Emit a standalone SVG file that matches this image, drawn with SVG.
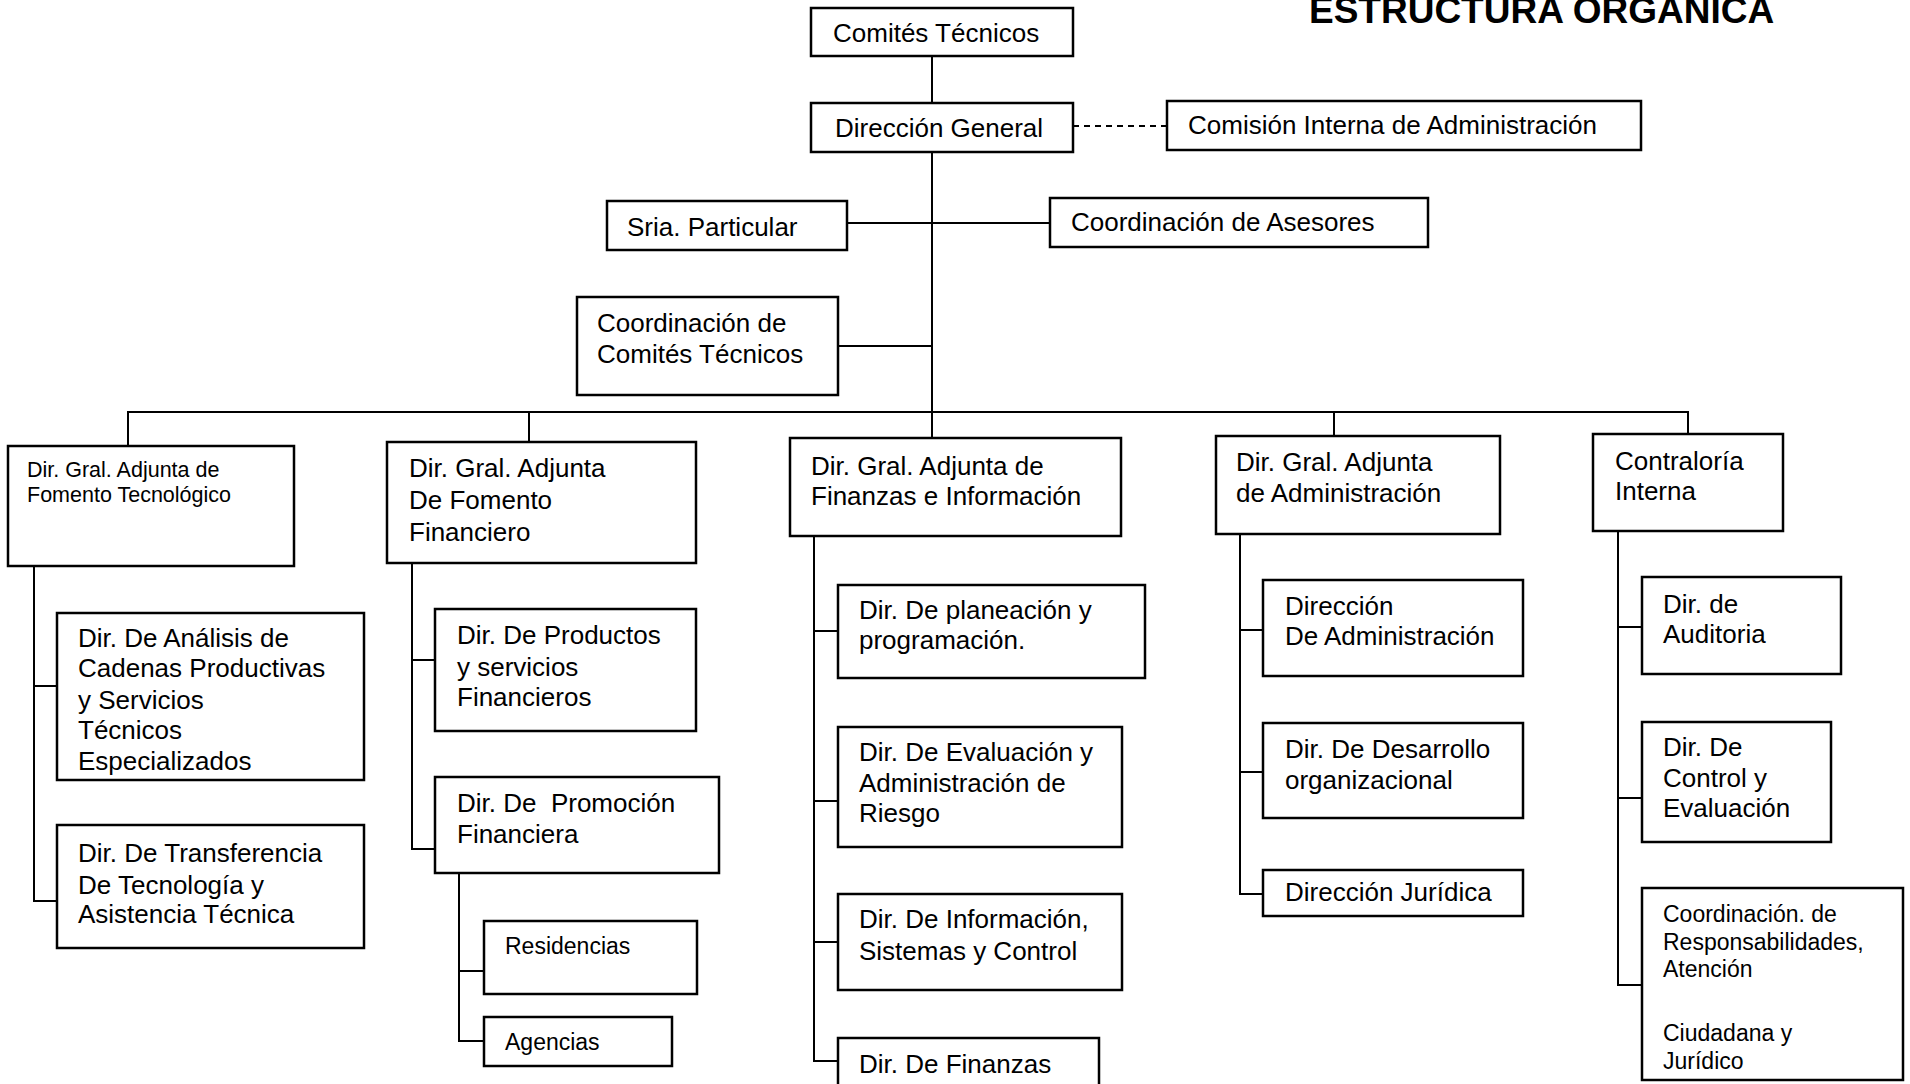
<svg xmlns="http://www.w3.org/2000/svg" width="1910" height="1084" viewBox="0 0 1910 1084">
  <style>
    .box { fill: #fff; stroke: #000; stroke-width: 2.5; }
    .ln { fill: none; stroke: #000; stroke-width: 2; }
    .dash { stroke-dasharray: 6 5; }
    text { font-family: "Liberation Sans", Arial, sans-serif; fill: #000; }
    .t { font-size: 26px; }
    .ts { font-size: 21.5px; }
    .tm { font-size: 23px; }
    .title { font-size: 37px; font-weight: bold; }
  </style>

  <rect width="1910" height="1084" fill="#fff"/>

  <text class="title" x="1309" y="23">ESTRUCTURA ORGANICA</text>

  <!-- connectors -->
  <g id="connectors">
    <!-- main trunk -->
    <path class="ln" d="M932 56 V438"/>
    <path class="ln dash" d="M1073 126 H1167"/>
    <path class="ln" d="M847 223 H1050"/>
    <path class="ln" d="M838 346 H932"/>
    <!-- bus to the deputy directorates -->
    <path class="ln" d="M128 446 V412 H1688 V434"/>
    <path class="ln" d="M529 412 V442"/>
    <path class="ln" d="M1334 412 V436"/>
    <!-- Fomento Tecnológico -->
    <path class="ln" d="M34 566 V901 H57"/>
    <path class="ln" d="M34 686 H57"/>
    <!-- Fomento Financiero -->
    <path class="ln" d="M412 563 V849 H435"/>
    <path class="ln" d="M412 660 H435"/>
    <path class="ln" d="M459 873 V1041 H484"/>
    <path class="ln" d="M459 971 H484"/>
    <!-- Finanzas e Información -->
    <path class="ln" d="M814 536 V1061 H838"/>
    <path class="ln" d="M814 631 H838"/>
    <path class="ln" d="M814 801 H838"/>
    <path class="ln" d="M814 942 H838"/>
    <!-- Administración -->
    <path class="ln" d="M1240 534 V894 H1263"/>
    <path class="ln" d="M1240 630 H1263"/>
    <path class="ln" d="M1240 772 H1263"/>
    <!-- Contraloría -->
    <path class="ln" d="M1618 531 V985 H1642"/>
    <path class="ln" d="M1618 627 H1642"/>
    <path class="ln" d="M1618 798 H1642"/>
  </g>

  <g id="comites-tecnicos">
    <rect class="box" x="811" y="8" width="262" height="48"/>
    <text class="t" x="833" y="42">Comités Técnicos</text>
  </g>
  <g id="direccion-general">
    <rect class="box" x="811" y="103" width="262" height="49"/>
    <text class="t" x="835" y="137">Dirección General</text>
  </g>
  <g id="comision-interna">
    <rect class="box" x="1167" y="101" width="474" height="49"/>
    <text class="t" x="1188" y="134">Comisión Interna de Administración</text>
  </g>
  <g id="sria-particular">
    <rect class="box" x="607" y="201" width="240" height="49"/>
    <text class="t" x="627" y="236">Sria. Particular</text>
  </g>
  <g id="coord-asesores">
    <rect class="box" x="1050" y="198" width="378" height="49"/>
    <text class="t" x="1071" y="231">Coordinación de Asesores</text>
  </g>
  <g id="coord-comites">
    <rect class="box" x="577" y="297" width="261" height="98"/>
    <text class="t"><tspan x="597" y="332">Coordinación de</tspan><tspan x="597" y="363">Comités Técnicos</tspan></text>
  </g>

  <g id="dga-fomento-tecnologico">
    <rect class="box" x="8" y="446" width="286" height="120"/>
    <text class="ts"><tspan x="27" y="477">Dir. Gral. Adjunta de</tspan><tspan x="27" y="502">Fomento Tecnológico</tspan></text>
  </g>
  <g id="dga-fomento-financiero">
    <rect class="box" x="387" y="442" width="309" height="121"/>
    <text class="t"><tspan x="409" y="477">Dir. Gral. Adjunta</tspan><tspan x="409" y="509">De Fomento</tspan><tspan x="409" y="541">Financiero</tspan></text>
  </g>
  <g id="dga-finanzas">
    <rect class="box" x="790" y="438" width="331" height="98"/>
    <text class="t"><tspan x="811" y="475">Dir. Gral. Adjunta de</tspan><tspan x="811" y="505">Finanzas e Información</tspan></text>
  </g>
  <g id="dga-administracion">
    <rect class="box" x="1216" y="436" width="284" height="98"/>
    <text class="t"><tspan x="1236" y="471">Dir. Gral. Adjunta</tspan><tspan x="1236" y="502">de Administración</tspan></text>
  </g>
  <g id="contraloria">
    <rect class="box" x="1593" y="434" width="190" height="97"/>
    <text class="t"><tspan x="1615" y="470">Contraloría</tspan><tspan x="1615" y="500">Interna</tspan></text>
  </g>

  <g id="dir-cadenas-productivas">
    <rect class="box" x="57" y="613" width="307" height="167"/>
    <text class="t"><tspan x="78" y="647">Dir. De Análisis de</tspan><tspan x="78" y="677">Cadenas Productivas</tspan><tspan x="78" y="709">y Servicios</tspan><tspan x="78" y="739">Técnicos</tspan><tspan x="78" y="770">Especializados</tspan></text>
  </g>
  <g id="dir-transferencia">
    <rect class="box" x="57" y="825" width="307" height="123"/>
    <text class="t"><tspan x="78" y="862">Dir. De Transferencia</tspan><tspan x="78" y="894">De Tecnología y</tspan><tspan x="78" y="923">Asistencia Técnica</tspan></text>
  </g>

  <g id="dir-productos">
    <rect class="box" x="435" y="609" width="261" height="122"/>
    <text class="t"><tspan x="457" y="644">Dir. De Productos</tspan><tspan x="457" y="676">y servicios</tspan><tspan x="457" y="706">Financieros</tspan></text>
  </g>
  <g id="dir-promocion">
    <rect class="box" x="435" y="777" width="284" height="96"/>
    <text class="t" xml:space="preserve"><tspan x="457" y="812">Dir. De  Promoción</tspan><tspan x="457" y="843">Financiera</tspan></text>
  </g>
  <g id="residencias">
    <rect class="box" x="484" y="921" width="213" height="73"/>
    <text class="tm" x="505" y="954">Residencias</text>
  </g>
  <g id="agencias">
    <rect class="box" x="484" y="1017" width="188" height="49"/>
    <text class="tm" x="505" y="1050">Agencias</text>
  </g>

  <g id="dir-planeacion">
    <rect class="box" x="838" y="585" width="307" height="93"/>
    <text class="t"><tspan x="859" y="619">Dir. De planeación y</tspan><tspan x="859" y="649">programación.</tspan></text>
  </g>
  <g id="dir-riesgo">
    <rect class="box" x="838" y="727" width="284" height="120"/>
    <text class="t"><tspan x="859" y="761">Dir. De Evaluación y</tspan><tspan x="859" y="792">Administración de</tspan><tspan x="859" y="822">Riesgo</tspan></text>
  </g>
  <g id="dir-informacion">
    <rect class="box" x="838" y="894" width="284" height="96"/>
    <text class="t"><tspan x="859" y="928">Dir. De Información,</tspan><tspan x="859" y="960">Sistemas y Control</tspan></text>
  </g>
  <g id="dir-finanzas">
    <rect class="box" x="838" y="1038" width="261" height="60"/>
    <text class="t" x="859" y="1073">Dir. De Finanzas</text>
  </g>

  <g id="dir-administracion">
    <rect class="box" x="1263" y="580" width="260" height="96"/>
    <text class="t"><tspan x="1285" y="615">Dirección</tspan><tspan x="1285" y="645">De Administración</tspan></text>
  </g>
  <g id="dir-desarrollo">
    <rect class="box" x="1263" y="723" width="260" height="95"/>
    <text class="t"><tspan x="1285" y="758">Dir. De Desarrollo</tspan><tspan x="1285" y="789">organizacional</tspan></text>
  </g>
  <g id="dir-juridica">
    <rect class="box" x="1263" y="870" width="260" height="46"/>
    <text class="t" x="1285" y="901">Dirección Jurídica</text>
  </g>

  <g id="dir-auditoria">
    <rect class="box" x="1642" y="577" width="199" height="97"/>
    <text class="t"><tspan x="1663" y="613">Dir. de</tspan><tspan x="1663" y="643">Auditoria</tspan></text>
  </g>
  <g id="dir-control">
    <rect class="box" x="1642" y="722" width="189" height="120"/>
    <text class="t"><tspan x="1663" y="756">Dir. De</tspan><tspan x="1663" y="787">Control y</tspan><tspan x="1663" y="817">Evaluación</tspan></text>
  </g>
  <g id="coord-responsabilidades">
    <rect class="box" x="1642" y="888" width="261" height="192"/>
    <text class="tm"><tspan x="1663" y="922">Coordinación. de</tspan><tspan x="1663" y="950">Responsabilidades,</tspan><tspan x="1663" y="977">Atención</tspan><tspan x="1663" y="1041">Ciudadana y</tspan><tspan x="1663" y="1069">Jurídico</tspan></text>
  </g>
</svg>
